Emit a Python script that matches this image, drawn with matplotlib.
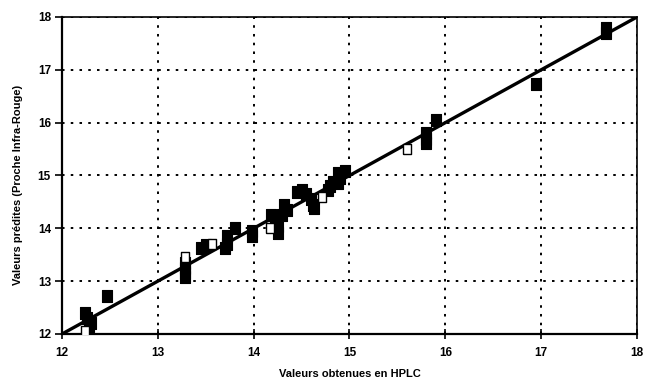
import matplotlib
matplotlib.use("Agg")
import matplotlib.pyplot as plt

# Filled squares (HPLC value, NIR predicted value)
filled_x = [12.47, 12.24, 12.26, 12.30, 12.28,
            13.28, 13.28, 13.28, 13.28,
            13.45, 13.50,
            13.80, 13.72, 13.72, 13.70,
            13.98, 13.98,
            14.18, 14.22, 14.25, 14.25,
            14.32, 14.35, 14.30,
            14.50, 14.55, 14.45,
            14.60, 14.62, 14.63,
            14.80, 14.83, 14.78,
            14.88, 14.90, 14.95, 14.88,
            15.80, 15.80, 15.80, 15.90,
            16.95,
            17.68, 17.68]
filled_y = [12.71, 12.40, 12.30, 12.20, 12.15,
            13.35, 13.25, 13.15, 13.07,
            13.62, 13.68,
            14.00, 13.85, 13.70, 13.62,
            13.95, 13.85,
            14.25, 14.15, 14.05, 13.92,
            14.45, 14.35, 14.25,
            14.72, 14.65, 14.68,
            14.55, 14.45, 14.38,
            14.80, 14.88, 14.72,
            15.05, 14.95, 15.08, 14.85,
            15.80, 15.70, 15.62, 16.05,
            16.73,
            17.80, 17.70]

# Open squares
open_x = [12.24, 13.28, 13.57, 14.17, 14.71, 15.60]
open_y = [12.05, 13.46, 13.70, 14.00, 14.60, 15.50]

# y = x reference line
line_x = [12, 18]
line_y = [12, 18]

ticks = [12, 13, 14, 15, 16, 17, 18]

plt.rcParams['font.family'] = ['Liberation Sans', 'DejaVu Sans']

fig = plt.figure(figsize=(6.48, 3.81), dpi=100)
ax = fig.add_axes([0.0957, 0.1234, 0.8873, 0.8320])

rect = [(-0.4, -0.5), (0.4, -0.5), (0.4, 0.5), (-0.4, 0.5), (-0.4, -0.5)]

ax.plot(line_x, line_y, color='black', lw=2.4, zorder=3)
ax.plot(filled_x, filled_y, linestyle='none', marker=rect, markersize=8.5,
        markerfacecolor='black', markeredgecolor='black', markeredgewidth=0.8, zorder=4)
ax.plot(open_x, open_y, linestyle='none', marker=rect, markersize=6.5,
        markerfacecolor='white', markeredgecolor='black', markeredgewidth=1.0, zorder=5)

ax.set_xlim(12, 18)
ax.set_ylim(12, 18)
ax.set_xticks(ticks)
ax.set_yticks(ticks)
ax.set_xticklabels([str(t) for t in ticks], fontweight='bold')
ax.set_yticklabels([str(t) for t in ticks], fontweight='bold')

ax.grid(True, color='black', linestyle=(0, (1.3, 3.2)), linewidth=1.4)
ax.set_axisbelow(True)

for s in ['left', 'bottom']:
    ax.spines[s].set_linewidth(1.6)
for s in ['top', 'right']:
    ax.spines[s].set_linewidth(1.2)

ax.tick_params(axis='x', direction='inout', length=7, width=1.2, labelsize=8.5, pad=6)
ax.tick_params(axis='y', direction='out', length=5, width=1.2, labelsize=8.5, pad=3)

ax.set_xlabel('Valeurs obtenues en HPLC', fontsize=8, fontweight='bold', labelpad=7)
ax.set_ylabel('Valeurs prédites (Proche Infra-Rouge)', fontsize=8, fontweight='bold')
ax.yaxis.set_label_coords(-0.068, 0.47)

fig.savefig('out.png', dpi=100)
